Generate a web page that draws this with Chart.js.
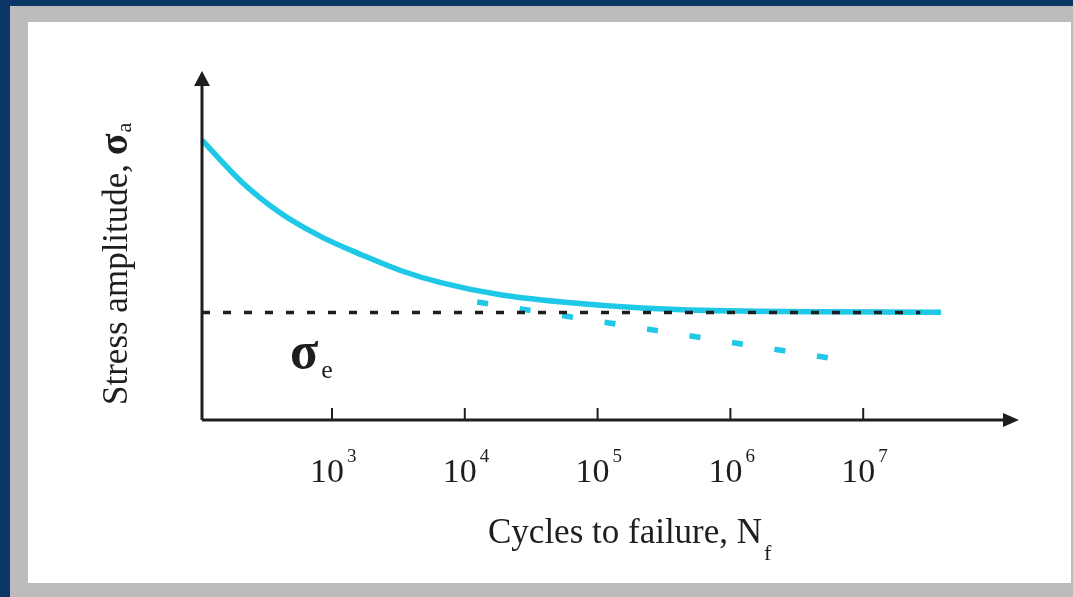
<!DOCTYPE html>
<html>
<head>
<meta charset="utf-8">
<script src="https://cdn.jsdelivr.net/npm/chart.js@4/dist/chart.umd.min.js"></script>
<style>
  html, body { margin: 0; padding: 0; }
  body { width: 1073px; height: 597px; background: #0a3766; position: relative; overflow: hidden; }
  #frame { position: absolute; left: 10px; top: 6px; right: 0; bottom: 0; background: #bcbcbc; }
  #panel { position: absolute; left: 28px; top: 22px; width: 1043px; height: 561px; background: #ffffff; }
  #sn { position: absolute; left: 0; top: 0; }
</style>
</head>
<body>
<div id="frame"></div>
<div id="panel"></div>
<canvas id="sn" width="1073" height="597"></canvas>
<script>
// S-N curve, values (stress in arbitrary units 0-100)
var cycles = [105, 209, 420, 840, 1680, 3360, 6730, 19000, 54000, 216000, 1220000, 38600000];
var stress = [80.2, 68.2, 59.0, 52.4, 47.3, 42.7, 39.3, 35.8, 33.8, 32.1, 31.2, 30.9];

// endurance limit sigma_e (black dotted line)
var enduranceCycles = [105, 26900000];
var enduranceLimit = [30.8, 30.8];

// material without a limit (cyan dashed line)
var noLimitCycles = [12400, 5450000];
var noLimitStress = [33.8, 17.8];

// decade ticks on the cycles axis
var tickExponents = [3, 4, 5, 6, 7];

var cyan = '#1ec8e6';
var ink = '#1e1e1e';
var serif = '"Liberation Serif", "DejaVu Serif", serif';

function toPoints(xs, ys) {
  var pts = [];
  for (var i = 0; i < xs.length; i++) {
    pts.push({x: xs[i], y: ys[i]});
  }
  return pts;
}

// draws the arrow axes, decade ticks and all the labels
var axesPlugin = {
  id: 'arrowAxes',
  afterDatasetsDraw: function(chart) {
    var ctx = chart.ctx;
    var xs = chart.scales.x;
    var ys = chart.scales.y;
    var x0 = xs.left, y0 = ys.bottom;
    ctx.save();
    ctx.strokeStyle = ink;
    ctx.fillStyle = ink;
    ctx.lineWidth = 3;
    ctx.beginPath();
    ctx.moveTo(x0, y0);
    ctx.lineTo(x0, ys.top + 12);
    ctx.moveTo(x0, y0);
    ctx.lineTo(xs.right - 12, y0);
    ctx.stroke();
    // arrow heads
    ctx.beginPath();
    ctx.moveTo(x0, ys.top);
    ctx.lineTo(x0 - 8, ys.top + 15);
    ctx.lineTo(x0 + 8, ys.top + 15);
    ctx.closePath();
    ctx.fill();
    ctx.beginPath();
    ctx.moveTo(xs.right, y0);
    ctx.lineTo(xs.right - 16, y0 - 7);
    ctx.lineTo(xs.right - 16, y0 + 7);
    ctx.closePath();
    ctx.fill();
    // decade ticks
    ctx.lineWidth = 2;
    tickExponents.forEach(function(e) {
      var px = xs.getPixelForValue(Math.pow(10, e));
      ctx.beginPath();
      ctx.moveTo(px, y0);
      ctx.lineTo(px, y0 - 12);
      ctx.stroke();
    });
    ctx.restore();
  },
  afterDraw: function(chart) {
    var ctx = chart.ctx;
    var xs = chart.scales.x;
    var ys = chart.scales.y;
    ctx.save();
    ctx.fillStyle = ink;
    ctx.textBaseline = 'alphabetic';

    // tick labels 10^n
    tickExponents.forEach(function(e) {
      var px = xs.getPixelForValue(Math.pow(10, e));
      ctx.font = '34px ' + serif;
      ctx.textAlign = 'right';
      ctx.fillText('10', px + 12, ys.bottom + 62);
      ctx.font = '19px ' + serif;
      ctx.textAlign = 'left';
      ctx.fillText(String(e), px + 15, ys.bottom + 42);
    });

    // x axis title
    ctx.textAlign = 'left';
    ctx.font = '35px ' + serif;
    var t = 'Cycles to failure, N';
    ctx.fillText(t, 488, 543);
    var w = ctx.measureText(t).width;
    ctx.font = '22px ' + serif;
    ctx.fillText('f', 488 + w + 2, 560);

    // y axis title, rotated
    ctx.save();
    ctx.translate(127, 405);
    ctx.rotate(-Math.PI / 2);
    ctx.font = '35px ' + serif;
    var s = 'Stress amplitude, ';
    ctx.fillText(s, 0, 0);
    var sw = ctx.measureText(s).width;
    ctx.font = 'bold 40px ' + serif;
    ctx.fillText('\u03c3', sw, 0);
    var gw = ctx.measureText('\u03c3').width;
    ctx.font = '22px ' + serif;
    ctx.fillText('a', sw + gw + 1, 4);
    ctx.restore();

    // sigma_e label under the endurance line
    var ly = ys.getPixelForValue(enduranceLimit[0]);
    ctx.font = 'bold 52px ' + serif;
    ctx.fillText('\u03c3', 290, ly + 55);
    var ew = ctx.measureText('\u03c3').width;
    ctx.font = '26px ' + serif;
    ctx.fillText('e', 290 + ew + 3, ly + 65);
    ctx.restore();
  }
};

var chart = new Chart(document.getElementById('sn'), {
  type: 'scatter',
  data: {
    datasets: [
      {
        label: 'Endurance limit',
        data: toPoints(enduranceCycles, enduranceLimit),
        showLine: true,
        borderColor: ink,
        borderWidth: 3.5,
        borderDash: [8, 13],
        pointRadius: 0,
        clip: false
      },
      {
        label: 'S-N curve',
        data: toPoints(cycles, stress),
        showLine: true,
        borderColor: cyan,
        borderWidth: 5.5,
        cubicInterpolationMode: 'monotone',
        pointRadius: 0,
        clip: false
      },
      {
        label: 'No endurance limit',
        data: toPoints(noLimitCycles, noLimitStress),
        showLine: true,
        borderColor: cyan,
        borderWidth: 5.5,
        borderDash: [11, 32],
        borderCapStyle: 'butt',
        pointRadius: 0,
        clip: false
      }
    ]
  },
  options: {
    responsive: false,
    animation: false,
    layout: { padding: { left: 202, right: 54, top: 71, bottom: 177 } },
    plugins: {
      legend: { display: false },
      tooltip: { enabled: false }
    },
    scales: {
      x: { type: 'logarithmic', min: 105, max: 1.49e8, display: false },
      y: { type: 'linear', min: 0, max: 100, display: false }
    }
  },
  plugins: [axesPlugin]
});
</script>
</body>
</html>
